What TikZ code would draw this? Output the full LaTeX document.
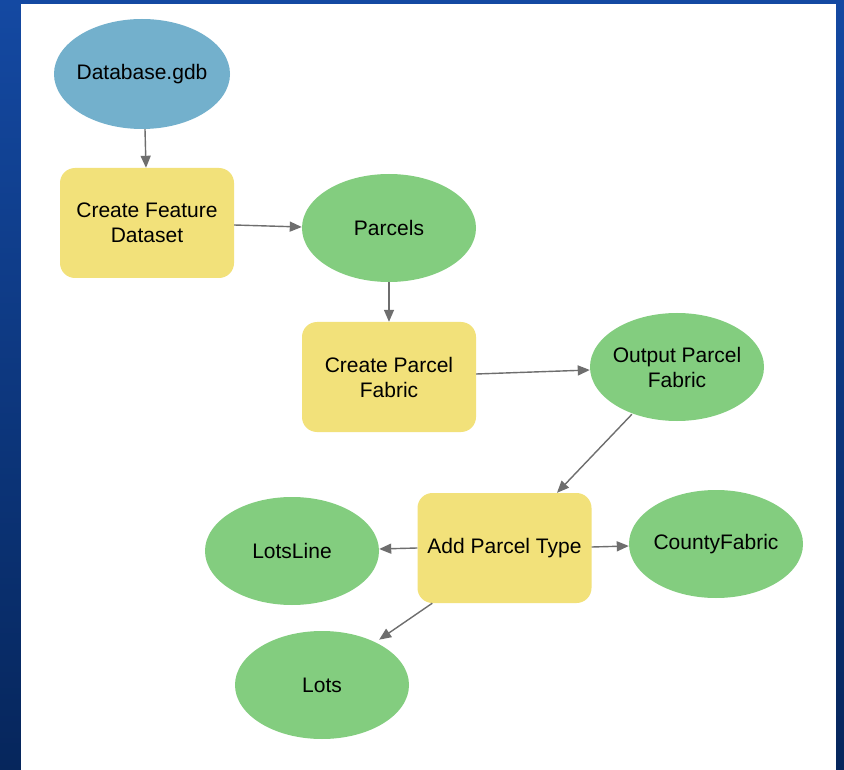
\documentclass[tikz,border=0pt]{standalone}
\usepackage{fontspec}
\setmainfont{Liberation Sans}
\usetikzlibrary{shapes.geometric,arrows.meta}
\definecolor{bgtop}{HTML}{1449A2}
\definecolor{bgbot}{HTML}{06265C}
\definecolor{dbblue}{HTML}{73B0CC}
\definecolor{procyel}{HTML}{F2E17A}
\definecolor{datagreen}{HTML}{83CD7F}
\definecolor{edgegrey}{HTML}{6E6E6E}
\begin{document}
\begin{tikzpicture}[x=1pt,y=-1pt,
  font=\fontsize{21}{25}\selectfont,
  dataell/.style={ellipse,fill=datagreen,minimum width=174pt,minimum height=108pt,inner xsep=-20pt,inner ysep=-5pt,align=center,text=black},
  srcell/.style={ellipse,fill=dbblue,minimum width=176pt,minimum height=110pt,inner xsep=-20pt,inner ysep=-5pt,align=center,text=black},
  procbox/.style={rectangle,rounded corners=15pt,fill=procyel,minimum width=174pt,minimum height=110pt,inner sep=0pt,align=center,text=black},
  conn/.style={draw=edgegrey,line width=1.4pt,-{Triangle[length=12pt,width=10pt]}}]
\useasboundingbox (0,0) rectangle (844,770);
\shade[top color=bgtop,bottom color=bgbot] (0,0) rectangle (844,770);
\fill[white] (21,4) rectangle (836,770);
\node[srcell] (db) at (142,74) {Database.gdb};
\node[procbox] (cfd) at (147,223) {Create Feature\\Dataset};
\node[dataell] (parcels) at (389,228) {Parcels};
\node[procbox] (cpf) at (389,377) {Create Parcel\\Fabric};
\node[dataell] (opf) at (677,367) {Output Parcel\\Fabric};
\node[procbox] (apt) at (504.5,548) {Add Parcel Type};
\node[dataell] (county) at (716,544) {CountyFabric};
\node[dataell] (lotsline) at (292,551) {LotsLine};
\node[dataell] (lots) at (322,685) {Lots};
\draw[conn] ([xshift=3pt]db.south) -- ([xshift=-1pt]cfd.north);
\draw[conn] ([yshift=-2pt]cfd.east) -- ([yshift=1pt]parcels.west);
\draw[conn] (parcels.south) -- (cpf.north);
\draw[conn] ([yshift=3pt]cpf.east) -- ([yshift=-3pt]opf.west);
\draw[conn] ([xshift=16.5pt,yshift=-9pt]opf.south west) -- ([xshift=52.5pt]apt.north);
\draw[conn] ([yshift=1pt]apt.east) -- ([yshift=-2pt]county.west);
\draw[conn] (apt.west) -- ([yshift=2pt]lotsline.east);
\draw[conn] ([xshift=15pt]apt.south west) -- ([xshift=-4.5pt,yshift=7pt]lots.north east);
\end{tikzpicture}
\end{document}
